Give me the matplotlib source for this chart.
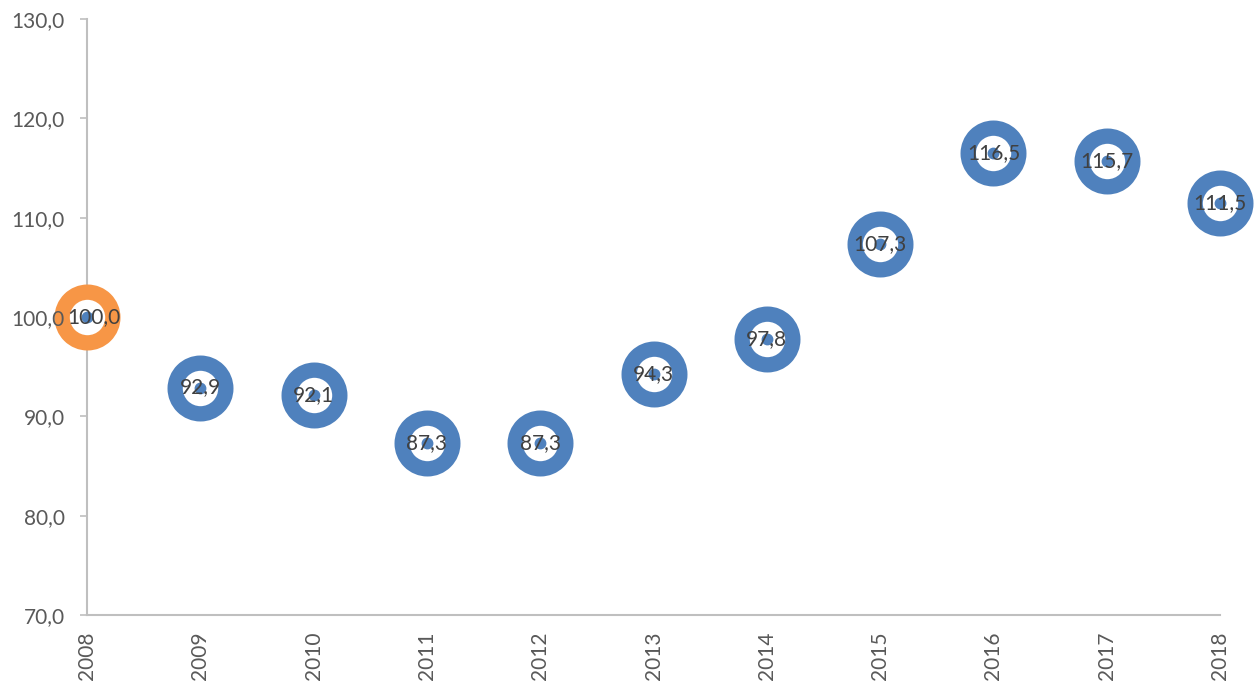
import matplotlib
matplotlib.use("Agg")
import matplotlib.pyplot as plt

years = [2008, 2009, 2010, 2011, 2012, 2013, 2014, 2015, 2016, 2017, 2018]
index_values = [100.0, 92.9, 92.1, 87.3, 87.3, 94.3, 97.8, 107.3, 116.5, 115.7, 111.5]

blue = "#4F81BD"
orange = "#F79646"
label_color = "#404040"
tick_color = "#595959"
axis_color = "#BFBFBF"

plt.rcParams["font.family"] = ["Lato", "DejaVu Sans"]

def fmt(v):
    return f"{v:.1f}".replace(".", ",")

fig = plt.figure(figsize=(12.57, 6.85), dpi=100)
ax = fig.add_axes([0.0692, 0.1022, 0.9014, 0.8701])

# rings: base year orange, the rest blue
ring_colors = [orange] + [blue] * (len(years) - 1)
for i, (x, y, c) in enumerate(zip(years, index_values, ring_colors)):
    ax.plot([x], [y], marker="o", markersize=36.5, markerfacecolor="white",
            markeredgecolor=c, markeredgewidth=11, linestyle="none",
            clip_on=False, zorder=3)
    ax.plot([x], [y], marker="o", markersize=7.5, color=blue,
            linestyle="none", clip_on=False, zorder=4)
    # first label sits a little to the right, clear of the tick label
    dx = 5 if i == 0 else 0
    ax.annotate(fmt(y), (x, y), xytext=(dx, 0), textcoords="offset points",
                ha="center", va="center", fontsize=15, color=label_color,
                zorder=5, annotation_clip=False)

ax.set_xlim(2008, 2018)
ax.set_ylim(70, 130)
ax.set_xticks(years)
ax.set_xticklabels([str(y) for y in years], rotation=90)
ax.set_yticks(range(70, 131, 10))
ax.set_yticklabels([fmt(v) for v in range(70, 131, 10)])

ax.tick_params(axis="x", length=0, pad=12, labelsize=15, labelcolor=tick_color)
ax.tick_params(axis="y", length=5, width=1.2, color=axis_color, pad=11,
               labelsize=15, labelcolor=tick_color)

# tick labels above the rings; the 100 tick mark is hidden behind the ring
ax.yaxis.set_zorder(6)
ax.yaxis.get_major_ticks()[3].tick1line.set_visible(False)

for s in ["top", "right"]:
    ax.spines[s].set_visible(False)
for s in ["left", "bottom"]:
    ax.spines[s].set_color(axis_color)
    ax.spines[s].set_linewidth(1.5)

fig.savefig("out.png", dpi=100)
